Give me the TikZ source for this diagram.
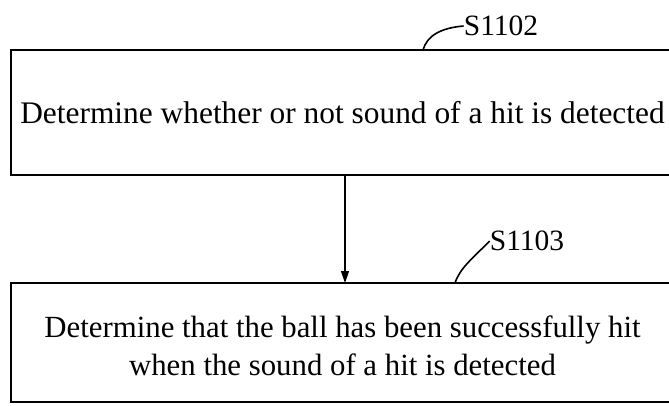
\documentclass[tikz,border=0pt]{standalone}
\usepackage{fontspec}
\setmainfont{Liberation Serif}
\usetikzlibrary{arrows.meta}
\begin{document}
\begin{tikzpicture}[x=1pt,y=1pt,
  stepbox/.style={draw,line width=2.2pt,inner sep=0pt},
  steptext/.style={inner sep=0pt,align=center},
  lbl/.style={font=\fontsize{29.5}{34}\selectfont,inner sep=0pt},
  lead/.style={line width=1.6pt},
  flow/.style={line width=1.2pt,-{Triangle[length=12pt,width=8pt]}}]
\useasboundingbox (0,0) rectangle (669,-405);
\clip (0,0) rectangle (669,-405);
\node[stepbox,minimum width=700pt,minimum height=125pt] (top) at (361,-112.5) {};
\node[stepbox,minimum width=700pt,minimum height=119pt] (bot) at (361,-342.5) {};
\node[steptext,font=\fontsize{31.4}{38}\selectfont] (t1) at (342.5,-113)
  {Determine whether or not sound of a hit is detected};
\node[steptext,font=\fontsize{30.8}{37.5}\selectfont] (t2) at (342.5,-346)
  {Determine that the ball has been successfully hit\\when the sound of a hit is detected};
\node[lbl] (l1) at (501,-26) {S1102};
\node[lbl] (l2) at (527,-241) {S1103};
\coordinate (c1) at (423,-50);
\coordinate (c2) at (455,-283);
\coordinate (a1) at (345,-175);
\coordinate (a2) at (345,-283);
\draw[lead] (c1) .. controls (427,-36) and (440,-28) .. (l1.west);
\draw[lead] (c2) .. controls (460,-268) and (472,-259) .. (l2.west);
\draw[flow] (a1) -- (a2);
\end{tikzpicture}
\end{document}
